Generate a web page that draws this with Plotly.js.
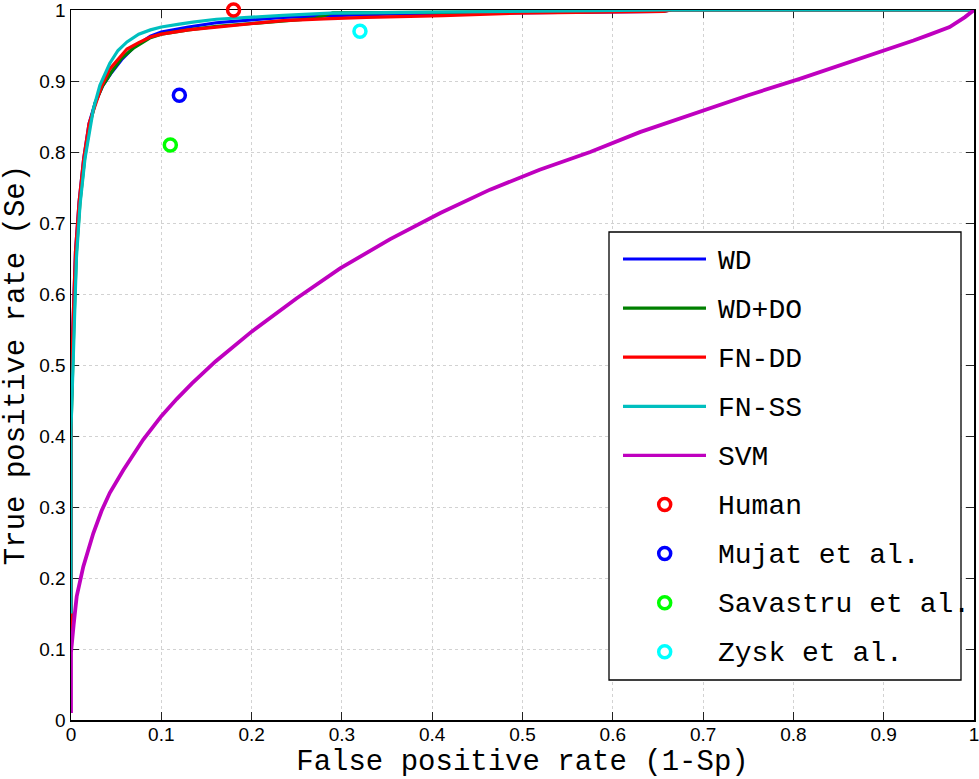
<!DOCTYPE html>
<html>
<head>
<meta charset="utf-8">
<script src="https://cdn.plot.ly/plotly-3.0.1.min.js"></script>
<style>
  html, body { margin: 0; padding: 0; background: #ffffff; }
  #chart { width: 979px; height: 779px; }
</style>
</head>
<body>
<div id="chart"></div>
<script>
// ROC curves: false positive rate (1-Sp) vs true positive rate (Se)
const wdFpr = [0, 0, 0.002, 0.005, 0.009, 0.014, 0.020, 0.027, 0.035, 0.045, 0.056, 0.070, 0.088, 0.100, 0.130, 0.161, 0.200, 0.235, 0.290, 0.350, 0.450, 0.550, 0.620, 0.655, 0.665, 1];
const wdTpr = [0.10, 0.42, 0.55, 0.66, 0.73, 0.79, 0.84, 0.87, 0.893, 0.912, 0.930, 0.948, 0.963, 0.969, 0.976, 0.982, 0.986, 0.9895, 0.992, 0.994, 0.9955, 0.9965, 0.9975, 0.998, 1, 1];

const wdDoFpr = [0, 0, 0.003, 0.006, 0.010, 0.015, 0.021, 0.027, 0.035, 0.045, 0.056, 0.070, 0.088, 0.100, 0.130, 0.161, 0.200, 0.235, 0.270, 0.290, 0.400, 0.490, 0.550, 0.620, 0.655, 0.665, 1];
const wdDoTpr = [0.12, 0.41, 0.55, 0.66, 0.73, 0.79, 0.84, 0.87, 0.893, 0.913, 0.932, 0.947, 0.961, 0.966, 0.972, 0.977, 0.981, 0.985, 0.988, 0.996, 0.9965, 0.997, 0.9975, 0.998, 0.9985, 1, 1];

const fnDdFpr = [0, 0, 0.002, 0.005, 0.009, 0.014, 0.020, 0.026, 0.034, 0.043, 0.062, 0.075, 0.088, 0.100, 0.130, 0.161, 0.200, 0.235, 0.280, 0.327, 0.412, 0.494, 0.560, 0.619, 0.656, 0.665, 1];
const fnDdTpr = [0.10, 0.42, 0.55, 0.66, 0.73, 0.79, 0.84, 0.862, 0.893, 0.917, 0.945, 0.954, 0.962, 0.966, 0.972, 0.976, 0.981, 0.985, 0.9875, 0.9895, 0.992, 0.9955, 0.9965, 0.997, 0.998, 1, 1];

const fnSsFpr = [0, 0, 0.003, 0.006, 0.010, 0.0155, 0.0247, 0.032, 0.043, 0.052, 0.062, 0.075, 0.088, 0.100, 0.120, 0.135, 0.161, 0.200, 0.235, 0.287, 0.350, 0.450, 0.500, 0.580, 0.660, 1];
const fnSsTpr = [0.15, 0.41, 0.53, 0.651, 0.726, 0.791, 0.860, 0.894, 0.925, 0.943, 0.955, 0.966, 0.972, 0.976, 0.980, 0.983, 0.987, 0.990, 0.9925, 0.9955, 0.9965, 0.9975, 0.998, 0.999, 1, 1];

const svmFpr = [0, 0, 0.003, 0.0063, 0.0136, 0.0247, 0.034, 0.043, 0.058, 0.080, 0.100, 0.117, 0.134, 0.160, 0.200, 0.250, 0.298, 0.353, 0.409, 0.464, 0.519, 0.575, 0.630, 0.697, 0.750, 0.807, 0.850, 0.896, 0.918, 0.933, 0.950, 0.973, 0.990, 1];
const svmTpr = [0.01, 0.095, 0.135, 0.174, 0.216, 0.263, 0.295, 0.320, 0.352, 0.395, 0.428, 0.452, 0.474, 0.505, 0.547, 0.594, 0.636, 0.677, 0.714, 0.747, 0.775, 0.800, 0.828, 0.857, 0.880, 0.903, 0.921, 0.941, 0.950, 0.957, 0.965, 0.976, 0.990, 1];

// Single operating points reported by other methods
const pointNames = ['Human', 'Mujat et al.', 'Savastru et al.', 'Zysk et al.'];
const pointFpr = [0.18, 0.12, 0.11, 0.32];
const pointTpr = [1.00, 0.88, 0.81, 0.97];

const curveNames = ['WD', 'WD+DO', 'FN-DD', 'FN-SS', 'SVM'];
const curveColors = ['#0000ff', '#008000', '#ff0000', '#00bfbf', '#bf00bf'];
const pointColors = ['#ff0000', '#0000ff', '#00ff00', '#00ffff'];

// Axis ticks
const tickValues = [0, 0.1, 0.2, 0.3, 0.4, 0.5, 0.6, 0.7, 0.8, 0.9, 1];
const tickLabels = ['0', '0.1', '0.2', '0.3', '0.4', '0.5', '0.6', '0.7', '0.8', '0.9', '1'];

const curveX = [wdFpr, wdDoFpr, fnDdFpr, fnSsFpr, svmFpr];
const curveY = [wdTpr, wdDoTpr, fnDdTpr, fnSsTpr, svmTpr];

const traces = [];
curveNames.forEach((name, i) => {
  traces.push({
    type: 'scatter', mode: 'lines', name: name,
    x: curveX[i], y: curveY[i],
    line: { color: curveColors[i], width: i === 4 ? 3.8 : 3.2 },
    showlegend: false, hoverinfo: 'skip'
  });
});
pointNames.forEach((name, i) => {
  traces.push({
    type: 'scatter', mode: 'markers', name: name,
    x: [pointFpr[i]], y: [pointTpr[i]],
    marker: { symbol: 'circle-open', size: 12, color: pointColors[i], line: { width: 3.5, color: pointColors[i] } },
    cliponaxis: false, showlegend: false, hoverinfo: 'skip'
  });
});

// Plot area geometry (pixels) used to place the hand-drawn legend
const W = 979, H = 779;
const M = { l: 71, r: 5, t: 10, b: 59 };
const plotW = W - M.l - M.r, plotH = H - M.t - M.b;
const px2x = p => (p - M.l) / plotW;
const px2y = p => (H - M.b - p) / plotH;

const shapes = [];
const annotations = [];

// legend frame
shapes.push({
  type: 'rect', xref: 'paper', yref: 'paper',
  x0: px2x(609), x1: px2x(961), y0: px2y(680), y1: px2y(232),
  line: { color: '#000000', width: 1.3 }, fillcolor: '#ffffff', layer: 'above'
});

const legendNames = curveNames.concat(pointNames);
const rowTop = 259, rowStep = 49.1;
legendNames.forEach((name, i) => {
  const yc = rowTop + i * rowStep;
  if (i < curveNames.length) {
    shapes.push({
      type: 'line', xref: 'paper', yref: 'paper',
      x0: px2x(623), x1: px2x(706), y0: px2y(yc), y1: px2y(yc),
      line: { color: curveColors[i], width: 3.2 }, layer: 'above'
    });
  } else {
    const c = pointColors[i - curveNames.length];
    shapes.push({
      type: 'circle', xref: 'paper', yref: 'paper',
      xsizemode: 'pixel', ysizemode: 'pixel',
      xanchor: px2x(664.7), yanchor: px2y(yc),
      x0: -6, x1: 6, y0: -6, y1: 6,
      line: { color: c, width: 3.5 }, fillcolor: 'rgba(0,0,0,0)', layer: 'above'
    });
  }
  annotations.push({
    xref: 'paper', yref: 'paper', x: px2x(716), y: px2y(yc + 2),
    xanchor: 'left', yanchor: 'middle', showarrow: false,
    text: name,
    font: { family: 'Liberation Mono, Courier New, monospace', size: 28, color: '#000000' }
  });
});

const axisCommon = {
  range: [0, 1], tickmode: 'array', tickvals: tickValues, ticktext: tickLabels,
  showgrid: true, gridcolor: '#d2d2d2', griddash: 'dot', gridwidth: 1,
  zeroline: false, showline: true, linecolor: '#000000', linewidth: 1.5,
  mirror: 'ticks', ticks: 'inside', ticklen: 8, tickwidth: 1, tickcolor: '#222222',
  tickfont: { family: 'Liberation Sans, Arial, sans-serif', size: 19, color: '#000000' },
  ticklabeloverflow: 'allow',
  layer: 'below traces', automargin: false, fixedrange: true
};

const layout = {
  width: W, height: H,
  margin: M,
  paper_bgcolor: '#ffffff', plot_bgcolor: '#ffffff',
  showlegend: false,
  xaxis: Object.assign({}, axisCommon, {
    ticklabelstandoff: -3,
    title: { text: 'False positive rate (1-Sp)', standoff: 13,
      font: { family: 'Liberation Mono, Courier New, monospace', size: 29, color: '#000000' } }
  }),
  yaxis: Object.assign({}, axisCommon, {
    title: { text: 'True positive rate (Se)', standoff: 6,
      font: { family: 'Liberation Mono, Courier New, monospace', size: 29, color: '#000000' } }
  }),
  shapes: shapes,
  annotations: annotations
};

Plotly.newPlot('chart', traces, layout, { staticPlot: true, displayModeBar: false });
</script>
</body>
</html>
